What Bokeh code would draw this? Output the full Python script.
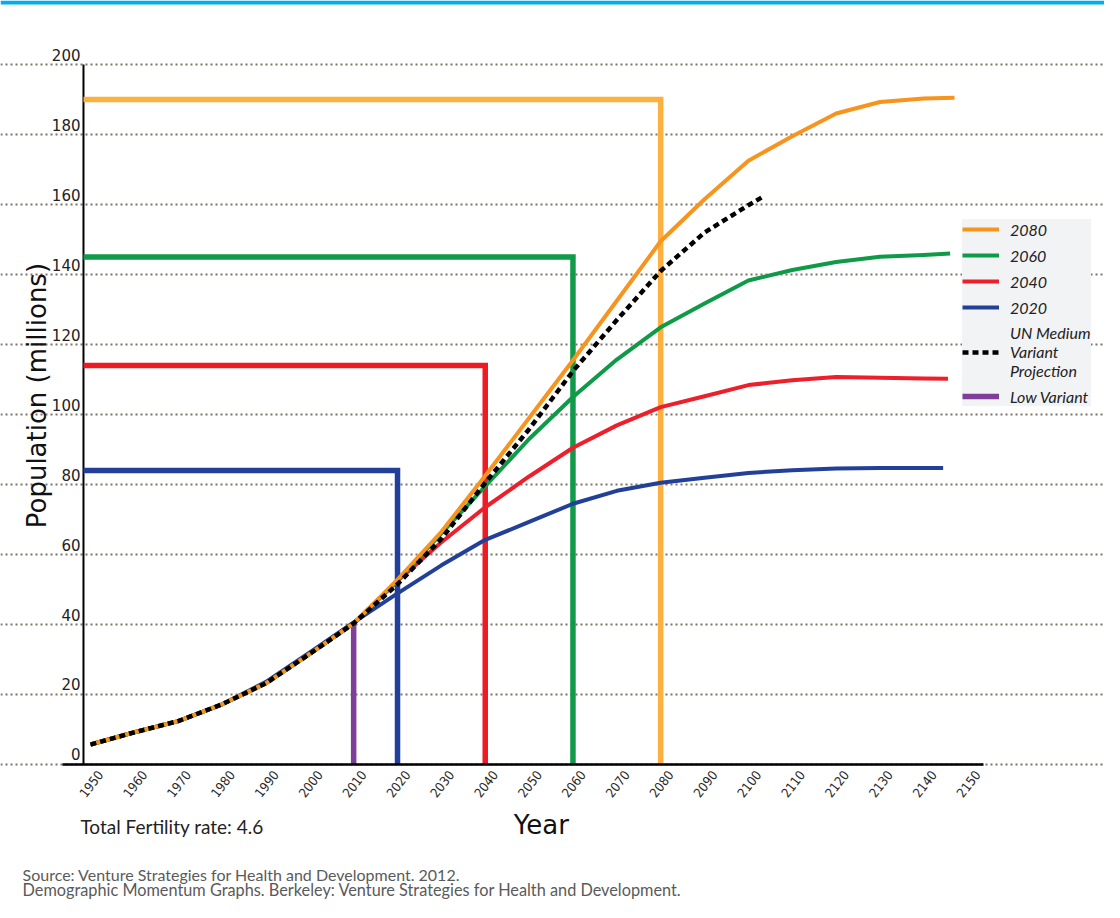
import math
from bokeh.plotting import figure
from bokeh.models import (Range1d, FixedTicker, Label, LabelSet, Legend,
                          LegendItem, ColumnDataSource, BoxAnnotation)
from bokeh.core.properties import value
from bokeh.embed import file_html
from bokeh.resources import INLINE

# ---------------- data ----------------
years_2080 = [1950, 1960, 1970, 1980, 1990, 2000, 2010, 2020, 2030, 2040, 2050,
              2060, 2070, 2080, 2090, 2100, 2110, 2120, 2130, 2140, 2147]
pop_2080 = [5.7, 9.2, 12.4, 17.2, 23.2, 31.6, 40.3, 52.8, 66.5, 82.5, 99.0,
            115.5, 132.5, 149.5, 161.5, 172.5, 179.5, 186.0, 189.3, 190.3, 190.5]

years_2060 = [1950, 1960, 1970, 1980, 1990, 2000, 2010, 2020, 2030, 2040, 2050,
              2060, 2070, 2080, 2090, 2100, 2110, 2120, 2130, 2140, 2146]
pop_2060 = [5.7, 9.2, 12.4, 17.2, 23.2, 31.6, 40.3, 52.5, 66.0, 79.5, 93.0,
            105.0, 115.7, 124.9, 131.7, 138.3, 141.3, 143.6, 145.1, 145.6, 146.0]

years_2040 = [1950, 1960, 1970, 1980, 1990, 2000, 2010, 2020, 2030, 2040, 2050,
              2060, 2070, 2080, 2090, 2100, 2110, 2120, 2130, 2140, 2145.5]
pop_2040 = [5.7, 9.2, 12.4, 17.2, 23.2, 31.6, 40.3, 52.5, 63.5, 73.5, 82.3,
            90.5, 96.9, 102.1, 105.2, 108.4, 109.8, 110.7, 110.5, 110.3, 110.2]

years_2020 = [1950, 1960, 1970, 1980, 1990, 2000, 2010, 2020, 2030, 2040, 2050,
              2060, 2070, 2080, 2090, 2100, 2110, 2120, 2130, 2140, 2144.4]
pop_2020 = [5.7, 9.2, 12.4, 17.2, 23.6, 32.0, 40.6, 48.9, 56.9, 64.2, 69.3,
            74.5, 78.2, 80.5, 81.9, 83.3, 84.1, 84.6, 84.7, 84.7, 84.7]

years_un = [1950, 1960, 1970, 1980, 1990, 2000, 2010, 2020, 2030, 2040, 2050,
            2060, 2070, 2080, 2090, 2100, 2103]
pop_un = [5.7, 9.2, 12.4, 17.2, 23.2, 31.6, 40.3, 51.5, 64.5, 80.5, 95.8,
          112.4, 127.0, 141.0, 152.0, 159.8, 162.0]

# replacement-fertility scenario boxes: year reached and final population
scenario_labels = ["2080", "2060", "2040", "2020"]
scenario_years = [2080, 2060, 2040, 2020]
scenario_peaks = [190, 145, 114, 84]
low_variant_year = 2010
low_variant_top = 40

x_ticks = [1950, 1960, 1970, 1980, 1990, 2000, 2010, 2020, 2030, 2040, 2050,
           2060, 2070, 2080, 2090, 2100, 2110, 2120, 2130, 2140, 2150]
x_tick_labels = ["1950", "1960", "1970", "1980", "1990", "2000", "2010", "2020", "2030",
                 "2040", "2050", "2060", "2070", "2080", "2090", "2100", "2110", "2120",
                 "2130", "2140", "2150"]
y_ticks = [0, 20, 40, 60, 80, 100, 120, 140, 160, 180, 200]
y_tick_labels = ["0", "20", "40", "60", "80", "100", "120", "140", "160", "180", "200"]

# ---------------- style / layout ----------------
curve_colors = {"2080": "#f7941e", "2060": "#0f9a48", "2040": "#ed1f2a", "2020": "#234099"}
box_colors = {"2080": "#fbb040", "2060": "#129a4b", "2040": "#ed1c24", "2020": "#22409a"}
purple = "#7f3f98"
FONT = "Lato"
WIDE = "DejaVu Sans"
COND = "Liberation Sans Narrow, DejaVu Sans Condensed, sans-serif"

# the frame covers the whole figure; data window and axis extents
view_x = (1929.48, 2181.19)
view_y = (-39.43, 218.29)
band_bottom = 217.14            # lower edge of the blue band on top
grid_x = (1942.02, 2154.74)     # extent of the dotted grid lines
xaxis_x = (1943.6, 2153.6)      # extent of the x axis line
yaxis_year = 1948.4             # where the y axis line stands

p = figure(frame_width=1104, frame_height=902, min_border=0,
           x_range=Range1d(*view_x), y_range=Range1d(*view_y),
           output_backend="svg", toolbar_location=None,
           background_fill_color="white", border_fill_color="white")
p.outline_line_color = None
p.xgrid.visible = False
p.yaxis.visible = False
p.ygrid.ticker = FixedTicker(ticks=y_ticks)
p.ygrid.bounds = grid_x
p.ygrid.grid_line_color = "#7d7466"
p.ygrid.grid_line_dash = "2 3"
p.ygrid.grid_line_width = 2

p.add_layout(BoxAnnotation(bottom=band_bottom, fill_color="#00aeef", fill_alpha=1,
                           line_color=None))

xa = p.xaxis[0]
xa.fixed_location = 0
xa.bounds = xaxis_x
xa.ticker = FixedTicker(ticks=[])
xa.axis_line_color = "black"
xa.axis_line_width = 2.5
xa.major_tick_line_color = None
xa.minor_tick_line_color = None

# y axis line
p.segment(x0=[yaxis_year], y0=[y_ticks[0]], x1=[yaxis_year], y1=[y_ticks[-1]],
          line_color="black", line_width=2)

# boxes
for lab, yr, pk in zip(scenario_labels, scenario_years, scenario_peaks):
    p.line([yaxis_year, yr, yr], [pk, pk, 0], line_color=box_colors[lab],
           line_width=5.5, line_join="miter")
r_low = p.line([low_variant_year, low_variant_year], [0, low_variant_top],
               line_color=purple, line_width=5.5)

# curves
r20 = p.line(years_2020, pop_2020, line_color=curve_colors["2020"], line_width=4, line_join="round")
r40 = p.line(years_2040, pop_2040, line_color=curve_colors["2040"], line_width=4, line_join="round")
r60 = p.line(years_2060, pop_2060, line_color=curve_colors["2060"], line_width=4, line_join="round")
r80 = p.line(years_2080, pop_2080, line_color=curve_colors["2080"], line_width=4, line_join="round")
run = p.line(years_un, pop_un, line_color="black", line_width=4.5, line_dash="6 4")

# tick labels
ysrc = ColumnDataSource(dict(x=[yaxis_year] * len(y_ticks), y=y_ticks, t=y_tick_labels))
p.add_layout(LabelSet(x="x", y="y", text="t", source=ysrc, x_offset=-3, y_offset=4,
                      text_align="right", text_baseline="alphabetic",
                      text_font=value(WIDE), text_font_size=value("15px"), text_color="#222222"))
xsrc = ColumnDataSource(dict(x=x_ticks, y=[0] * len(x_ticks), t=x_tick_labels))
p.add_layout(LabelSet(x="x", y="y", text="t", source=xsrc, x_offset=1, y_offset=-19.5,
                      angle=0.91, text_align="center", text_baseline="middle",
                      text_font=value(COND), text_font_size=value("13px"), text_color="#2a2a2a"))

# titles and notes
p.add_layout(Label(x=1937.7, y=105.4, text="Population (millions)", angle=math.pi / 2,
                   text_align="center", text_baseline="middle", text_font=WIDE,
                   text_font_size="26px", text_color="#111111"))
p.add_layout(Label(x=2052.8, y=-17.4, text="Year", text_align="center",
                   text_baseline="alphabetic", text_font=WIDE,
                   text_font_size="26px", text_color="#111111"))
p.add_layout(Label(x=1947.7, y=-17.6, text="Total Fertility rate: 4.6", text_align="left",
                   text_baseline="alphabetic", text_font=FONT,
                   text_font_size="19px", text_color="#222222"))
p.add_layout(Label(x=1934.5, y=-31.43, text="Source: Venture Strategies for Health and Development. 2012.",
                   text_align="left", text_baseline="alphabetic", text_font=FONT,
                   text_font_size="16px", text_color="#5a5a5a"))
p.add_layout(Label(x=1934.5, y=-35.71,
                   text="Demographic Momentum Graphs. Berkeley: Venture Strategies for Health and Development.",
                   text_align="left", text_baseline="alphabetic", text_font=FONT,
                   text_font_size="16.3px", text_color="#5a5a5a"))

legend = Legend(items=[
    LegendItem(label="2080", renderers=[r80]),
    LegendItem(label="2060", renderers=[r60]),
    LegendItem(label="2040", renderers=[r40]),
    LegendItem(label="2020", renderers=[r20]),
    LegendItem(label="UN Medium\nVariant\nProjection", renderers=[run]),
    LegendItem(label="Low Variant", renderers=[r_low]),
], location=(962, 496))
legend.background_fill_color = "#f2f3f5"
legend.background_fill_alpha = 1
legend.border_line_color = None
legend.padding = 12
legend.margin = 0
legend.spacing = 6
legend.glyph_width = 37
legend.glyph_height = 20
legend.label_height = 20
legend.label_standoff = 11
legend.label_text_font = FONT
legend.label_text_font_style = "italic"
legend.label_text_font_size = "16px"
legend.label_text_color = "#222222"
legend.label_text_line_height = 1.45
p.add_layout(legend)

open("out.html", "w").write(file_html(p, INLINE))
